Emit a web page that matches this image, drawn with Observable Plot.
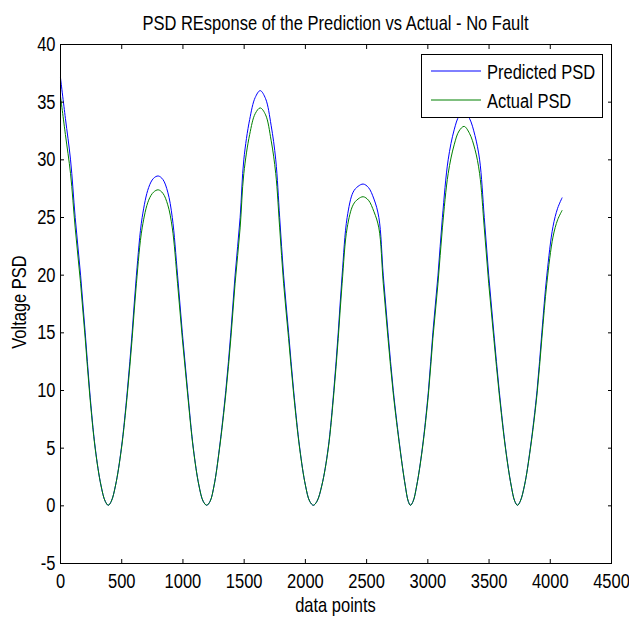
<!DOCTYPE html>
<html><head><meta charset="utf-8">
<script src="https://cdn.jsdelivr.net/npm/d3@7"></script>
<script src="https://cdn.jsdelivr.net/npm/@observablehq/plot@0.6"></script>
<style>
body{margin:0;background:#fff;}
#wrap{position:relative;width:629px;height:617px;overflow:hidden;}
.txt{position:absolute;font-family:"Liberation Sans",Arial,sans-serif;font-size:16.5px;line-height:20px;color:#000;white-space:nowrap;transform-origin:50% 50%;}
</style>
</head><body><div id="wrap"></div>
<script>
const titleText = "PSD REsponse of the Prediction vs Actual - No Fault";
const xLabel = "data points";
const yLabel = "Voltage PSD";
const seriesNames = ["Predicted PSD", "Actual PSD"];
const seriesColors = ["#0000ff", "#008000"];
const xTicks = [0, 500, 1000, 1500, 2000, 2500, 3000, 3500, 4000, 4500];
const yTicks = [-5, 0, 5, 10, 15, 20, 25, 30, 35, 40];

const xPoints = [0,40,82,120,164,202,238,284,330,365,390,415,450,497,546,585,620,667,720,760,798,836,876,913,956,995,1038,1085,1130,1165,1194,1222,1255,1298,1350,1391,1426,1467,1497,1545,1590,1631,1675,1720,1758,1790,1822,1863,1904,1954,2000,2035,2065,2095,2135,2186,2232,2268,2300,2341,2390,2430,2472,2515,2560,2600,2636,2675,2718,2773,2815,2840,2858,2880,2910,2955,3005,3041,3083,3119,3166,3215,3255,3296,3340,3385,3423,3461,3497,3539,3583,3635,3680,3710,3732,3755,3790,3837,3892,3931,3972,4022,4060,4096];
const predicted = [37.1,33.6,30.0,25.0,20.0,15.0,10.0,5.0,1.8,0.4,0.05,0.4,1.8,5.0,10.0,15.0,20.0,25.0,27.6,28.4,28.6,28.3,27.2,25.0,20.0,15.0,10.0,5.0,1.8,0.4,0.05,0.4,1.8,5.0,10.0,15.0,20.0,25.0,30.0,33.5,35.4,36.0,35.3,33.0,30.0,25.0,20.0,15.0,10.0,5.0,1.8,0.4,0.05,0.4,1.8,5.0,10.0,15.0,20.0,25.0,27.2,27.7,27.9,27.6,26.6,25.0,20.0,15.0,10.0,5.0,1.8,0.4,0.05,0.4,1.8,5.0,10.0,15.0,20.0,25.0,30.0,32.6,33.8,34.2,33.6,32.1,30.0,25.0,20.0,15.0,10.0,5.0,1.8,0.4,0.05,0.4,1.8,5.0,10.0,15.0,20.0,24.2,25.8,26.7];
const actual = [35.5,32.2,28.8,24.1,19.3,14.5,9.7,4.9,1.8,0.4,0.05,0.4,1.8,4.9,9.7,14.5,19.3,24.1,26.5,27.2,27.4,27.1,26.1,24.1,19.3,14.5,9.7,4.9,1.8,0.4,0.05,0.4,1.8,4.9,9.7,14.5,19.3,24.1,28.8,32.2,34.0,34.5,33.9,31.7,28.8,24.1,19.3,14.5,9.7,4.9,1.8,0.4,0.05,0.4,1.8,4.9,9.7,14.5,19.3,24.1,26.1,26.6,26.8,26.5,25.5,24.1,19.3,14.5,9.7,4.9,1.8,0.4,0.05,0.4,1.8,4.9,9.7,14.5,19.3,24.1,28.8,31.3,32.5,32.9,32.3,30.9,28.8,24.1,19.3,14.5,9.7,4.9,1.8,0.4,0.05,0.4,1.8,4.9,9.7,14.5,19.3,23.3,24.8,25.6];

const FONT = '"Liberation Sans",Arial,sans-serif';
const rows = xPoints.flatMap((x, i) => [
  {x, y: predicted[i], s: seriesNames[0]},
  {x, y: actual[i], s: seriesNames[1]}
]);
const fmt = d => String(d);

const chart = Plot.plot({
  width: 629, height: 617,
  marginLeft: 60, marginRight: 18, marginTop: 44, marginBottom: 54,
  style: {fontFamily: FONT, fontSize: "16.5px", color: "#000", background: "#fff"},
  x: {domain: [0, 4500]},
  y: {domain: [-5, 40]},
  color: {domain: seriesNames, range: seriesColors},
  marks: [
    Plot.line(rows, {x: "x", y: "y", z: "s", stroke: "s", strokeWidth: 1, curve: "catmull-rom"}),
    Plot.axisX({anchor: "bottom", ticks: xTicks, tickFormat: fmt, tickSize: 0, tickPadding: 10, label: null, fontSize: 16.5}),
    Plot.axisX({anchor: "bottom", ticks: xTicks, tickSize: -4, tickFormat: () => "", label: null}),
    Plot.axisX({anchor: "top", ticks: xTicks, tickSize: -4, tickFormat: () => "", label: null}),
    Plot.axisY({anchor: "left", ticks: yTicks, tickFormat: fmt, tickSize: 0, tickPadding: 5, label: null, fontSize: 16.5}),
    Plot.axisY({anchor: "left", ticks: yTicks, tickSize: -4, tickFormat: () => "", label: null}),
    Plot.axisY({anchor: "right", ticks: yTicks, tickSize: -4, tickFormat: () => "", label: null}),
    Plot.frame({stroke: "#000", strokeWidth: 1})
  ]
});
// stretch tick-label glyphs vertically (narrow, tall look of the original)
chart.querySelectorAll("text").forEach(t => {
  if (t.textContent.trim() === "") return;
  const tr = t.getAttribute("transform");
  if (tr) {
    t.setAttribute("transform", tr + " scale(1,1.25)");
  } else {
    const x = t.getAttribute("x") || 0, y = t.getAttribute("y") || 0;
    t.setAttribute("x", 0); t.setAttribute("y", 0);
    t.setAttribute("transform", `translate(${x},${y}) scale(1,1.25)`);
  }
});
const wrap = document.getElementById("wrap");
chart.style.position = "absolute"; chart.style.left = "0"; chart.style.top = "0";
wrap.appendChild(chart);

function addText(str, css) {
  const d = document.createElement("div");
  d.className = "txt"; d.textContent = str;
  Object.assign(d.style, css);
  wrap.appendChild(d);
  return d;
}
addText(titleText, {left: "60px", width: "551px", textAlign: "center", top: "12px", transform: "scaleY(1.25)"});
addText(xLabel, {left: "60px", width: "551px", textAlign: "center", top: "594px", transform: "scaleY(1.25)"});
addText(yLabel, {left: "-182px", width: "400px", textAlign: "center", top: "292px", transform: "rotate(-90deg) scaleY(1.25)"});

// legend
const ns = "http://www.w3.org/2000/svg";
const lg = document.createElementNS(ns, "svg");
lg.setAttribute("width", 184); lg.setAttribute("height", 66);
Object.assign(lg.style, {position: "absolute", left: "420px", top: "53px"});
const rect = document.createElementNS(ns, "rect");
rect.setAttribute("x", 1.5); rect.setAttribute("y", 1.5); rect.setAttribute("width", 181); rect.setAttribute("height", 63);
rect.setAttribute("fill", "#fff"); rect.setAttribute("stroke", "#000"); rect.setAttribute("stroke-width", 1);
lg.appendChild(rect);
seriesNames.forEach((name, i) => {
  const yy = 18 + i * 29;
  const ln = document.createElementNS(ns, "line");
  ln.setAttribute("x1", 11); ln.setAttribute("x2", 61); ln.setAttribute("y1", yy); ln.setAttribute("y2", yy);
  ln.setAttribute("stroke", seriesColors[i]); ln.setAttribute("stroke-width", 1);
  lg.appendChild(ln);
  const t = document.createElementNS(ns, "text");
  t.setAttribute("transform", `translate(67,${yy + 7.5}) scale(1,1.25)`);
  t.setAttribute("font-family", FONT); t.setAttribute("font-size", 16.5);
  t.textContent = name;
  lg.appendChild(t);
});
wrap.appendChild(lg);
</script>
</body></html>
